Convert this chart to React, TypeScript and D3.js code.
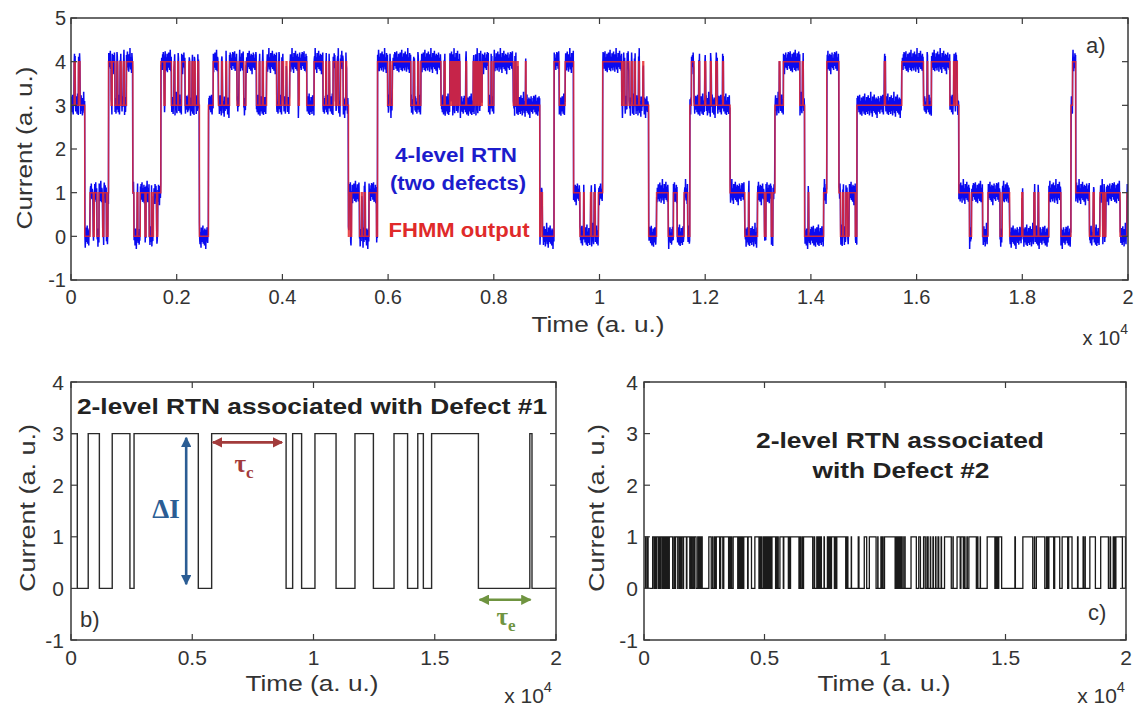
import React from 'react';
import * as d3 from 'd3';

// ---------------- DATA ----------------
const T_MAX = 20000;

// intervals (raw time, a.u.) where defect #1 is in its high state (3 a.u.)
const defect1High: [number, number][] = [
  [0, 260], [710, 1170], [1700, 2430], [2600, 5250], [5800, 8870], [9140, 9510],
  [10060, 10930], [11710, 12470], [13320, 13880], [14300, 14530], [14870, 16800], [18920, 19010],
];
const defect1Amp = 3;

// intervals where defect #2 is in its high state (1 a.u.)
const defect2High: [number, number][] = [
  [60, 80], [140, 170], [360, 420], [440, 490], [530, 600], [620, 670], [700, 760], [780, 830],
  [870, 885], [930, 950], [990, 1010], [1050, 1190], [1250, 1265], [1310, 1400], [1420, 1480],
  [1520, 1530], [1560, 1620], [1640, 1760], [1780, 1900], [1950, 1965], [2020, 2035], [2090, 2160],
  [2230, 2250], [2290, 2300], [2330, 2350], [2400, 2415], [2690, 2790], [2850, 2865], [2930, 2945],
  [3000, 3140], [3180, 3270], [3310, 3510], [3560, 3575], [3620, 3640], [3700, 3890], [3930, 3945],
  [3990, 4020], [4070, 4085], [4140, 4300], [4320, 4460], [4600, 4770], [4820, 4835], [4880, 4895],
  [4960, 5000], [5030, 5060], [5100, 5150], [5200, 5215], [5260, 5290], [5310, 5460], [5500, 5510],
  [5550, 5570], [5640, 5780], [5800, 5990], [6030, 6045], [6080, 6430], [6480, 6500], [6560, 6580],
  [6620, 7000], [7060, 7080], [7170, 7190], [7200, 7220], [7235, 7250], [7265, 7285],
  [7300, 7320], [7335, 7360], [7470, 7485], [7610, 7625], [7640, 7660],
  [7675, 7690], [7710, 7730], [7750, 7770], [7780, 7900], [7950, 7965], [8000, 8370], [8400, 8420],
  [8450, 8460], [8600, 8610], [8890, 8920], [9140, 9240], [9350, 9630], [9700, 9710],
  [9830, 9850], [9900, 9920], [9980, 10420], [10450, 10480], [10520, 10560], [10600, 10620],
  [10660, 10680], [10740, 10755], [10820, 10835], [11080, 11300], [11400, 11470], [11600, 11670],
  [11740, 11790], [11880, 11895], [11990, 12010], [12100, 12115], [12200, 12230], [12330, 12345],
  [12470, 12750], [12820, 12830], [12990, 13120], [13150, 13250], [13280, 13320], [13400, 13415],
  [13480, 13790], [13840, 13855], [13950, 13960], [14240, 14560], [14600, 14620], [14660, 14690],
  [14720, 14840], [15390, 15410], [15720, 16130], [16200, 16210], [16280, 16630], [16700, 16720],
  [16740, 16770], [16800, 17000], [17040, 17250], [17350, 17580], [17620, 17760], [17990, 18010],
  [18220, 18240], [18300, 18310], [18500, 18730], [18950, 19270], [19340, 19360], [19470, 19520],
  [19540, 19560], [19580, 19850], [19980, 20000],
];
const defect2Amp = 1;

// measurement noise offsets (a.u.) superimposed on the 4-level signal
const blueNoise = [
  0.14, -0.09, 0.2, -0.16, 0.06, 0.24, -0.12, -0.21, 0.1, 0.03, -0.07, 0.18, -0.24, 0.13, 0.08,
  -0.14, 0.21, -0.04, 0.16, -0.19, 0.03, 0.27, -0.1, -0.22, 0.11, 0.07, -0.15, 0.19, -0.02, 0.15,
  -0.2, 0.09, 0.23, -0.13, -0.05, 0.17, -0.23, 0.05, 0.12, -0.11, 0.31, -0.08, -0.18, 0.1, 0.01,
  -0.26, 0.2, 0.07, -0.13, 0.16, -0.03, 0.25, -0.17, -0.09, 0.14, 0.06, -0.21, 0.18, -0.01, 0.11,
  -0.29, 0.08, 0.15, -0.12, 0.21, -0.07, -0.15, 0.09, 0.03, -0.19, 0.17, -0.1, 0.22,
];
const NOISE_STEP = 6;

const topXTicks = [0, 2000, 4000, 6000, 8000, 10000, 12000, 14000, 16000, 18000, 20000];
const topYTicks = [-1, 0, 1, 2, 3, 4, 5];
const botXTicks = [0, 5000, 10000, 15000, 20000];
const botYTicks = [-1, 0, 1, 2, 3, 4];

// ---------------- HELPERS ----------------
const FONT = 'Liberation Sans, Arial, Helvetica, sans-serif';
const SERIF = 'Liberation Serif, Times New Roman, serif';

function isHigh(iv: [number, number][], t: number) {
  return iv.some(([a, b]) => t >= a && t < b);
}
function d1(t: number) { return isHigh(defect1High, t) ? defect1Amp : 0; }
function d2(t: number) { return isHigh(defect2High, t) ? defect2Amp : 0; }
function total(t: number) { return d1(t) + d2(t); }

function breaks(...lists: [number, number][][]) {
  const s = new Set<number>([0]);
  lists.forEach((l) => l.forEach(([a, b]) => { s.add(a); s.add(b); }));
  return Array.from(s).filter((v) => v >= 0 && v < T_MAX).sort((a, b) => a - b);
}
function stepPts(fn: (t: number) => number, br: number[]): [number, number][] {
  const pts: [number, number][] = br.map((t) => [t, fn(t)]);
  pts.push([T_MAX, fn(T_MAX - 1)]);
  return pts;
}
const fmt = (t: number) => String(+(t / 1e4).toFixed(1));

interface AxesProps {
  x: d3.ScaleLinear<number, number>;
  y: d3.ScaleLinear<number, number>;
  xTicks: number[];
  yTicks: number[];
  fs: number;
  xLabY: number;
  yLabX: number;
  tickLen: number;
}
function Axes({ x, y, xTicks, yTicks, fs, xLabY, yLabX, tickLen }: AxesProps) {
  const [x0, x1] = x.range();
  const [y1, y0] = y.range();
  const col = '#3a3a3a';
  return (
    <g>
      {xTicks.map((t) => (
        <g key={'x' + t}>
          <line x1={x(t)} x2={x(t)} y1={y1} y2={y1 - tickLen} stroke={col} strokeWidth={1.2} />
          <line x1={x(t)} x2={x(t)} y1={y0} y2={y0 + tickLen} stroke={col} strokeWidth={1.2} />
          <text x={x(t)} y={xLabY} textAnchor="middle" fontSize={fs} fontFamily={FONT} fill="#333">{fmt(t)}</text>
        </g>
      ))}
      {yTicks.map((v) => (
        <g key={'y' + v}>
          <line x1={x0} x2={x0 + tickLen} y1={y(v)} y2={y(v)} stroke={col} strokeWidth={1.2} />
          <line x1={x1} x2={x1 - tickLen} y1={y(v)} y2={y(v)} stroke={col} strokeWidth={1.2} />
          <text x={yLabX} y={y(v)} dy="0.36em" textAnchor="end" fontSize={fs} fontFamily={FONT} fill="#333">{v}</text>
        </g>
      ))}
      <rect x={x0} y={y0} width={x1 - x0} height={y1 - y0} fill="none" stroke={col} strokeWidth={1.5} />
    </g>
  );
}

function Exp({ xRight, y, fs }: { xRight: number; y: number; fs: number }) {
  return (
    <text x={xRight} y={y} textAnchor="end" fontSize={fs} fontFamily={FONT} fill="#333">
      x 10<tspan dy={-11} fontSize={fs * 0.7}>4</tspan>
    </text>
  );
}

function ArrowDefs() {
  const mk = (id: string, c: string) => (
    <marker id={id} viewBox="0 0 10 10" refX="9" refY="5" markerWidth="4" markerHeight="4" orient="auto-start-reverse">
      <path d="M0,0 L10,5 L0,10 z" fill={c} />
    </marker>
  );
  return (
    <defs>
      {mk('arBlue', '#2b5d94')}
      {mk('arRed', '#a23b3b')}
      {mk('arGreen', '#6f9440')}
    </defs>
  );
}

export default function App() {
  // ---- top panel ----
  const xT = d3.scaleLinear().domain([0, T_MAX]).range([71, 1128]);
  const yT = d3.scaleLinear().domain([-1, 5]).range([280, 18]);
  const allBr = breaks(defect1High, defect2High);
  const fhmm = stepPts(total, allBr);
  const stepLine = (xs: d3.ScaleLinear<number, number>, ys: d3.ScaleLinear<number, number>) =>
    d3.line<[number, number]>().x((d) => xs(d[0])).y((d) => ys(d[1])).curve(d3.curveStepAfter);
  const measured: [number, number][] = [];
  for (let i = 0, t = 0; t <= T_MAX; i++, t += NOISE_STEP) {
    measured.push([t, total(Math.min(t, T_MAX - 1)) + blueNoise[i % blueNoise.length]]);
  }
  const blueLine = d3.line<[number, number]>().x((d) => xT(d[0])).y((d) => yT(d[1]));

  // ---- bottom panels ----
  const yB = d3.scaleLinear().domain([-1, 4]).range([640, 382]);
  const xB = d3.scaleLinear().domain([0, T_MAX]).range([71, 556]);
  const xC = d3.scaleLinear().domain([0, T_MAX]).range([644, 1126]);
  const s1 = stepPts(d1, breaks(defect1High));
  const s2 = stepPts(d2, breaks(defect2High));

  return (
    <svg width={1142} height={711} style={{ position: 'absolute', left: 0, top: 0, background: '#fff' }}>
      <ArrowDefs />
      <defs>
        <clipPath id="clipT"><rect x={71} y={18} width={1057} height={262} /></clipPath>
      </defs>
      {/* TOP PANEL */}
      <g clipPath="url(#clipT)">
        <path d={blueLine(measured) || ''} fill="none" stroke="#0a0af0" strokeWidth={1.5} />
        <path d={stepLine(xT, yT)(fhmm) || ''} fill="none" stroke="#e8292b" strokeWidth={1.5} strokeOpacity={0.85} />
      </g>
      <Axes x={xT} y={yT} xTicks={topXTicks} yTicks={topYTicks} fs={20} xLabY={304} yLabX={66} tickLen={6} />
      <text x={598} y={332} textAnchor="middle" fontSize={22} fontFamily={FONT} fill="#333" textLength={133} lengthAdjust="spacingAndGlyphs">Time (a. u.)</text>
      <text transform="translate(32,148) rotate(-90)" textAnchor="middle" fontSize={22} fontFamily={FONT} fill="#333" textLength={163} lengthAdjust="spacingAndGlyphs">Current (a. u.)</text>
      <Exp xRight={1128} y={345} fs={20} />
      <text x={1086} y={53} fontSize={22} fontFamily={FONT} fill="#333">a)</text>
      <text x={456} y={162} textAnchor="middle" fontSize={21} fontWeight="bold" fontFamily={FONT} fill="#1c1ccc" textLength={122} lengthAdjust="spacingAndGlyphs">4-level RTN</text>
      <text x={458} y={190} textAnchor="middle" fontSize={21} fontWeight="bold" fontFamily={FONT} fill="#1c1ccc" textLength={136} lengthAdjust="spacingAndGlyphs">(two defects)</text>
      <text x={459} y={237} textAnchor="middle" fontSize={21} fontWeight="bold" fontFamily={FONT} fill="#e02a2a" textLength={141} lengthAdjust="spacingAndGlyphs">FHMM output</text>

      {/* PANEL B */}
      <path d={stepLine(xB, yB)(s1) || ''} fill="none" stroke="#2a2a2a" strokeWidth={1.4} />
      <Axes x={xB} y={yB} xTicks={botXTicks} yTicks={botYTicks} fs={21} xLabY={665} yLabX={64} tickLen={6} />
      <text x={312} y={414} textAnchor="middle" fontSize={22} fontWeight="bold" fontFamily={FONT} fill="#222" textLength={470} lengthAdjust="spacingAndGlyphs">2-level RTN associated with Defect #1</text>
      <text x={312} y={691} textAnchor="middle" fontSize={22} fontFamily={FONT} fill="#333" textLength={133} lengthAdjust="spacingAndGlyphs">Time (a. u.)</text>
      <text transform="translate(35,508) rotate(-90)" textAnchor="middle" fontSize={22} fontFamily={FONT} fill="#333" textLength={168} lengthAdjust="spacingAndGlyphs">Current (a. u.)</text>
      <Exp xRight={552} y={703} fs={21} />
      <text x={80} y={627} fontSize={22} fontFamily={FONT} fill="#333">b)</text>
      {/* ΔI */}
      <line x1={xB(4750)} x2={xB(4750)} y1={yB(2.92)} y2={yB(0.08)} stroke="#2b5d94" strokeWidth={2.6} markerStart="url(#arBlue)" markerEnd="url(#arBlue)" />
      <text x={166} y={518} textAnchor="middle" fontSize={27} fontWeight="bold" fontFamily={SERIF} fill="#2b5d94">ΔI</text>
      {/* τc */}
      <line x1={xB(5850)} x2={xB(8700)} y1={yB(2.83)} y2={yB(2.83)} stroke="#a23b3b" strokeWidth={2.6} markerStart="url(#arRed)" markerEnd="url(#arRed)" />
      <text x={244} y={472} textAnchor="middle" fontSize={25} fontWeight="bold" fontFamily={SERIF} fill="#a23b3b">τ<tspan dy={6} fontSize={17}>c</tspan></text>
      {/* τe */}
      <line x1={xB(16850)} x2={xB(18950)} y1={yB(-0.22)} y2={yB(-0.22)} stroke="#6f9440" strokeWidth={2.6} markerStart="url(#arGreen)" markerEnd="url(#arGreen)" />
      <text x={506} y={625} textAnchor="middle" fontSize={25} fontWeight="bold" fontFamily={SERIF} fill="#6f9440">τ<tspan dy={6} fontSize={17}>e</tspan></text>

      {/* PANEL C */}
      <path d={stepLine(xC, yB)(s2) || ''} fill="none" stroke="#1a1a1a" strokeWidth={1.3} />
      <Axes x={xC} y={yB} xTicks={botXTicks} yTicks={botYTicks} fs={21} xLabY={665} yLabX={638} tickLen={6} />
      <text x={900} y={448} textAnchor="middle" fontSize={22} fontWeight="bold" fontFamily={FONT} fill="#222" textLength={288} lengthAdjust="spacingAndGlyphs">2-level RTN associated</text>
      <text x={901} y={478} textAnchor="middle" fontSize={22} fontWeight="bold" fontFamily={FONT} fill="#222" textLength={177} lengthAdjust="spacingAndGlyphs">with Defect #2</text>
      <text x={884} y={691} textAnchor="middle" fontSize={22} fontFamily={FONT} fill="#333" textLength={133} lengthAdjust="spacingAndGlyphs">Time (a. u.)</text>
      <text transform="translate(604,508) rotate(-90)" textAnchor="middle" fontSize={22} fontFamily={FONT} fill="#333" textLength={168} lengthAdjust="spacingAndGlyphs">Current (a. u.)</text>
      <Exp xRight={1125} y={703} fs={21} />
      <text x={1088} y={620} fontSize={22} fontFamily={FONT} fill="#333">c)</text>
    </svg>
  );
}
